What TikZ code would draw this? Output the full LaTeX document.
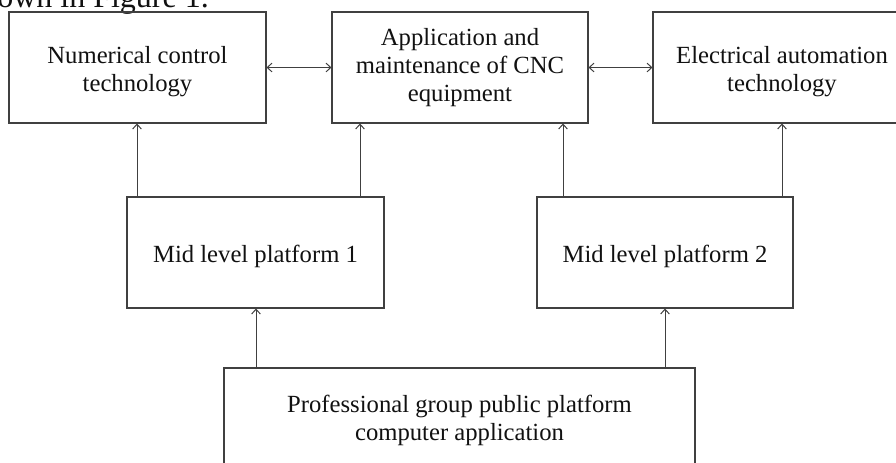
\documentclass[tikz,border=0pt]{standalone}
\usepackage{fontspec}
\setmainfont{Liberation Serif}
\usetikzlibrary{arrows.meta}
\definecolor{linec}{HTML}{404040}
\definecolor{textc}{HTML}{111111}
\begin{document}
\begin{tikzpicture}[x=0.75pt,y=-0.75pt,
  box/.style={draw=linec, line width=0.8pt, rectangle, inner sep=0pt, minimum height=83.25pt},
  txt/.style={inner sep=0pt, align=center, text=textc, font=\fontsize{18.5}{21}\selectfont},
  conn/.style={draw=linec, line width=0.75pt, -{Straight Barb[length=3.5pt,width=6.5pt]}},
  dconn/.style={draw=linec, line width=0.75pt, {Straight Barb[length=3.5pt,width=6.5pt]}-{Straight Barb[length=3.5pt,width=6.5pt]}}]
\useasboundingbox (0,0) rectangle (896,462);
\clip (0,0) rectangle (896,462);
\fill[white] (0,0) rectangle (896,462);

\node[anchor=base west, inner sep=0pt, text=textc, font=\fontsize{24}{28}\selectfont] (cap) at (-3,7.5) {own in Figure 1.};

\node[box, minimum width=192.75pt] (n1) at (137.5,67.5) {};
\node[box, minimum width=192pt] (n2) at (460,67.5) {};
\node[box, minimum width=193.5pt] (n3) at (782,67.5) {};
\node[box, minimum width=192.75pt] (m1) at (255.5,252.5) {};
\node[box, minimum width=192pt] (m2) at (665,252.5) {};
\node[box, minimum width=353.25pt, minimum height=78pt] (b) at (459.5,420) {};

\node[txt] (n1t) at ([yshift=-3pt]n1.center) {Numerical control\\technology};
\node[txt] (n2t) at (n2.center) {Application and\\maintenance of CNC\\equipment};
\node[txt] (n3t) at ([yshift=-3pt]n3.center) {Electrical automation\\technology};
\node[txt] (m1t) at ([yshift=-3pt]m1.center) {Mid level platform 1};
\node[txt] (m2t) at ([yshift=-3pt]m2.center) {Mid level platform 2};
\node[txt] (bt) at (b.center) {Professional group public platform\\computer application};

\coordinate (xa) at (137,0);
\coordinate (xb) at (360,0);
\coordinate (xc) at (563,0);
\coordinate (xd) at (782,0);
\coordinate (xe) at (256,0);
\coordinate (xf) at (665,0);

\draw[dconn] (n1.east) -- (n2.west);
\draw[dconn] (n2.east) -- (n3.west);

\draw[conn] (m1.north -| xa) -- (n1.south -| xa);
\draw[conn] (m1.north -| xb) -- (n2.south -| xb);
\draw[conn] (m2.north -| xc) -- (n2.south -| xc);
\draw[conn] (m2.north -| xd) -- (n3.south -| xd);
\draw[conn] (b.north -| xe) -- (m1.south -| xe);
\draw[conn] (b.north -| xf) -- (m2.south -| xf);
\end{tikzpicture}
\end{document}
